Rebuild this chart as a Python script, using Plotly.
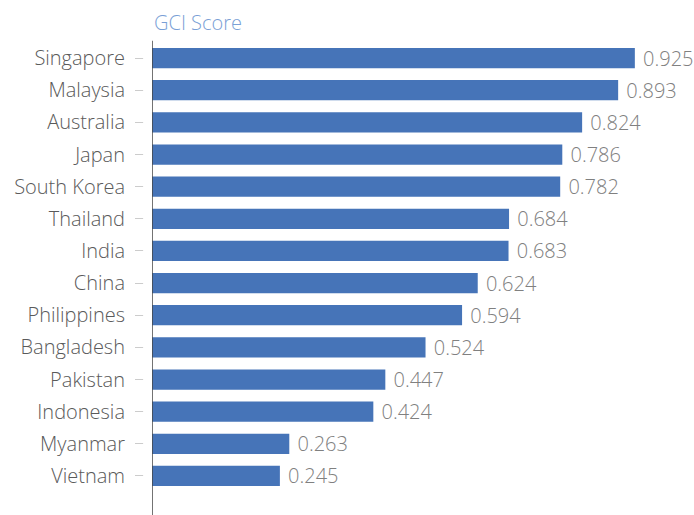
import plotly.graph_objects as go

countries = ["Singapore", "Malaysia", "Australia", "Japan", "South Korea", "Thailand",
             "India", "China", "Philippines", "Bangladesh", "Pakistan", "Indonesia",
             "Myanmar", "Vietnam"]
gci_score = [0.925, 0.893, 0.824, 0.786, 0.782, 0.684, 0.683, 0.624, 0.594, 0.524,
             0.447, 0.424, 0.263, 0.245]
axis_title = "GCI Score"

FONT = "Open Sans"

fig = go.Figure()
fig.add_trace(go.Bar(
    x=gci_score, y=countries, orientation="h",
    marker=dict(color="#4674b8", line=dict(width=0)),
    text=["\u00a0" + f"{v:.3f}" for v in gci_score],
    textposition="outside", cliponaxis=False, constraintext="none",
    textfont=dict(family=FONT, size=20, color="#808080", weight=300),
    hoverinfo="x+y",
))

# white gap separating the tick dashes from the axis line
fig.add_shape(type="rect", xref="paper", yref="paper", x0=-0.017, x1=-0.001,
              y0=-0.01, y1=1.01, fillcolor="white", line=dict(width=0), layer="above")
fig.add_shape(type="line", xref="x", yref="paper", x0=0, x1=0, y0=-0.06, y1=1.003,
              line=dict(color="#444444", width=1.5))
fig.add_annotation(text=axis_title, xref="x", yref="paper", x=0, y=1.008,
                   xanchor="left", yanchor="bottom", showarrow=False,
                   font=dict(family=FONT, size=20, color="#7a9fd6", weight=300))

fig.update_layout(
    width=694, height=515,
    margin=dict(l=152, r=20, t=42, b=23, autoexpand=False),
    paper_bgcolor="white", plot_bgcolor="white",
    bargap=0.37, showlegend=False,
    xaxis=dict(range=[0, 1], visible=False, fixedrange=True, automargin=False),
    yaxis=dict(autorange="reversed", showline=False, showgrid=False, zeroline=False,
               automargin=False, ticks="outside", ticklen=16, tickwidth=1,
               tickcolor="#cccccc", ticklabelstandoff=6,
               tickfont=dict(family=FONT, size=20, color="#5a5a5a", weight=300)),
)

fig.write_html("out.html")
